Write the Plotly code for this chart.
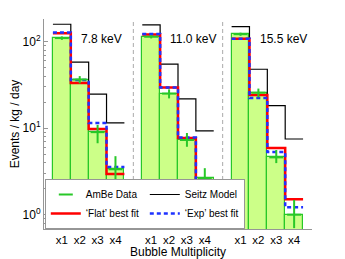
import plotly.graph_objects as go

# ---------------- data ----------------
panels = ["7.8 keV", "11.0 keV", "15.5 keV"]
categories = ["x1", "x2", "x3", "x4"]

ambe_data = [[110, 36.5, 9.0, 3.35],
             [114, 25.1, 7.3, 2.65],
             [122, 25.7, 4.6, 1.0]]
ambe_err_plus = [[5, 3.5, 1.9, 1.4],
                 [5, 3.0, 1.5, 0.8],
                 [5, 3.0, 1.0, 0.48]]
ambe_err_minus = [[5, 3.5, 2.3, 1.1],
                  [5, 3.0, 1.2, 0.8],
                  [5, 3.0, 0.65, 0.30]]
seitz_model = [[159, 58, 24.8, 11.5],
               [156, 55, 21.8, 9.3],
               [149, 48, 18.2, 7.5]]
flat_fit = [[125, 33.3, 9.8, 2.95],
            [121, 29.5, 7.7, 2.25],
            [108, 24.2, 5.9, 1.51]]
exp_fit = [[128, 36.0, 11.5, 3.56],
           [123, 29.5, 7.8, 2.3],
           [108, 22.3, 5.3, 1.22]]

ytick_vals = [1, 10, 100]
ytick_text = ["10<sup>0</sup>", "10<sup>1</sup>", "10<sup>2</sup>"]

# ---------------- positions (category index based) ----------------
gap = 1
ncat = len(categories)
xpos, xlab = [], []
for p in range(len(panels)):
    for c in range(ncat):
        xpos.append(p * (ncat + gap) + c + 1)
        xlab.append(categories[c])

def flat(lst):
    return [v for row in lst for v in row]

def stairs(vals):
    xs, ys = [], []
    for p, row in enumerate(vals):
        start = p * (ncat + gap) + 0.5
        for c, v in enumerate(row):
            xs.append(start + c)
            ys.append(v)
        xs.append(start + ncat)
        ys.append(row[-1])
        xs.append(None)
        ys.append(None)
    return xs, ys

FONT = "Liberation Sans, Arial, sans-serif"
GREEN_FILL = "rgb(204,255,136)"
GREEN = "rgb(40,200,40)"
GRAY = "rgb(150,150,150)"

fig = go.Figure()

fig.add_trace(go.Bar(
    x=xpos, y=flat(ambe_data), width=1,
    marker=dict(color=GREEN_FILL, line=dict(color=GREEN, width=1.2)),
    showlegend=False, hoverinfo="skip"))

sx, sy = stairs(seitz_model)
fig.add_trace(go.Scatter(x=sx, y=sy, mode="lines", line_shape="hv",
                         line=dict(color="black", width=1.2),
                         name="Seitz Model", legendrank=2))
fx, fy = stairs(flat_fit)
fig.add_trace(go.Scatter(x=fx, y=fy, mode="lines", line_shape="hv",
                         line=dict(color="rgb(255,0,0)", width=2.5),
                         name="‘Flat’ best fit", legendrank=3))
ex, ey = stairs(exp_fit)
fig.add_trace(go.Scatter(x=ex, y=ey, mode="lines", line_shape="hv",
                         line=dict(color="rgb(30,50,255)", width=2.5, dash="4px,3px"),
                         name="‘Exp’ best fit", legendrank=4))

fig.add_trace(go.Scatter(
    x=xpos, y=flat(ambe_data), mode="markers",
    marker=dict(symbol="line-ew-open", size=10, color=GREEN,
                line=dict(color=GREEN, width=2)),
    error_y=dict(type="data", array=flat(ambe_err_plus),
                 arrayminus=flat(ambe_err_minus), color=GREEN,
                 thickness=2, width=0),
    name="AmBe Data", legendrank=1))

# panel separators and labels
for p in range(1, len(panels)):
    xs = p * (ncat + gap)
    fig.add_shape(type="line", x0=xs, x1=xs, y0=0, y1=1, xref="x", yref="paper",
                  line=dict(color="rgb(170,170,170)", width=1, dash="4px,3px"), layer="below")
for p, name in enumerate(panels):
    fig.add_annotation(x=p * (ncat + gap) + 2 - 0.05, y=2.03, xref="x", yref="y",
                       text=name, showarrow=False, xanchor="left", yanchor="middle",
                       font=dict(size=12, color="black", family=FONT))

fig.update_layout(
    width=345, height=259,
    margin=dict(l=44, r=33, t=19, b=30, autoexpand=False),
    paper_bgcolor="white", plot_bgcolor="white",
    font=dict(family=FONT, size=12, color="black"),
    bargap=0,
    legend=dict(orientation="h", x=0.003, y=0, xanchor="left", yanchor="bottom",
                bgcolor="white", bordercolor=GRAY, borderwidth=1,
                font=dict(size=10, family=FONT), itemwidth=30,
                entrywidth=54, tracegroupgap=0),
)
fig.update_xaxes(range=[0, len(panels) * (ncat + gap)], tickmode="array",
                 tickvals=xpos, ticktext=xlab, ticks="", showline=True,
                 linecolor=GRAY, linewidth=1, showgrid=False, zeroline=False,
                 tickfont=dict(size=11.5), automargin=False,
                 title=dict(text="Bubble Multiplicity", standoff=2, font=dict(size=12)))
fig.update_yaxes(type="log", range=[-0.165, 2.262], tickmode="array",
                 tickvals=ytick_vals, ticktext=ytick_text, ticks="inside",
                 ticklen=4, tickcolor=GRAY, showline=True, linecolor=GRAY,
                 showgrid=False, zeroline=False, tickfont=dict(size=12),
                 automargin=False,
                 minor=dict(ticks="inside", ticklen=2, tickcolor=GRAY,
                            tickvals=[m * 10 ** d for d in range(-1, 3) for m in range(2, 10)]),
                 title=dict(text="Events / kg / day", standoff=0, font=dict(size=12)))

fig.write_html("out.html", post_script="document.body.style.margin='0px';",
               config={"displayModeBar": False})
